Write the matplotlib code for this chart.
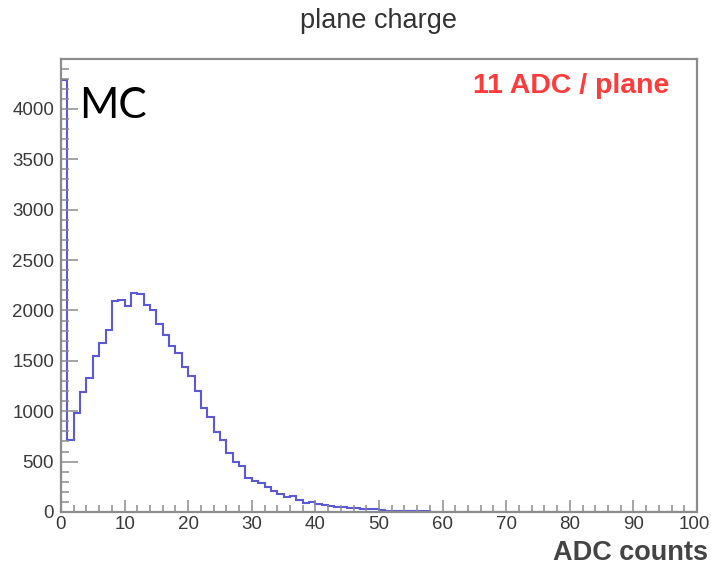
import numpy as np
import matplotlib
matplotlib.use("Agg")
import matplotlib.pyplot as plt
import matplotlib.transforms as mtransforms
from matplotlib.ticker import MultipleLocator

# Histogram of plane charge, 1 ADC-count bins from 0 to 100
bin_edges = np.arange(0, 101, 1)
counts_nonzero = [
    4290, 715, 980, 1195, 1330, 1550, 1680, 1810, 2090, 2105,
    2040, 2175, 2160, 2055, 2005, 1865, 1760, 1650, 1575, 1440,
    1350, 1200, 1030, 945, 790, 715, 590, 500, 460, 340,
    310, 285, 250, 210, 180, 150, 155, 120, 92, 100,
    80, 65, 55, 50, 45, 38, 35, 30, 28, 25,
    15, 14, 12, 12, 10, 10, 10, 10,
]
counts = np.zeros(100)
counts[:len(counts_nonzero)] = counts_nonzero

x_ticks = list(range(0, 101, 10))
title_text = "plane charge"
x_label = "ADC counts"
sample_label = "MC"
mean_label = "11 ADC / plane"

W, H = 711, 566
fig = plt.figure(figsize=(W / 100, H / 100), dpi=100)
ax = fig.add_axes([61 / W, 1 - 512 / H, (697 - 61) / W, (512 - 59) / H])

ax.stairs(counts, bin_edges, color="#5a5ad6", linewidth=1.5)

ax.set_xlim(0, 100)
ax.set_ylim(0, 4495)

frame_col = "#8c8c8c"
label_col = "#3a3a3a"
for sp in ax.spines.values():
    sp.set_color(frame_col)
    sp.set_linewidth(1.6)

ax.set_xticks(x_ticks)
ax.xaxis.set_minor_locator(MultipleLocator(2))
ax.yaxis.set_major_locator(MultipleLocator(500))
ax.yaxis.set_minor_locator(MultipleLocator(100))

ax.tick_params(axis="x", which="major", direction="in", length=9, width=1.1,
               color=frame_col, labelbottom=False)
ax.tick_params(axis="x", which="minor", direction="in", length=4.8, width=1.1,
               color=frame_col)
ax.tick_params(axis="y", which="major", direction="in", length=12, width=1.1,
               color=frame_col, labelsize=13.5, labelcolor=label_col, pad=5)
ax.tick_params(axis="y", which="minor", direction="in", length=6, width=1.1,
               color=frame_col)
for lab in ax.get_yticklabels():
    lab.set_family("Liberation Sans")

# x tick labels placed just under the frame; the last one is kept on-canvas
xtrans = ax.get_xaxis_transform()
for v in x_ticks:
    dx = -2.5 / 100 if v == x_ticks[-1] else 0
    t = xtrans + mtransforms.ScaledTranslation(dx, -4 / 100, fig.dpi_scale_trans)
    ax.text(v, 0, str(v), transform=t, ha="center", va="top",
            fontsize=13.5, color=label_col, family="Liberation Sans", clip_on=False)

fig.text(379 / W, 1 - 21 / H, title_text, ha="center", va="center",
         fontsize=19.5, color="#333333", family="Liberation Sans")
fig.text(708 / W, 1 - 553 / H, x_label, ha="right", va="center",
         fontsize=19.5, fontweight="bold", color="#444444", family="Liberation Sans")
fig.text(79 / W, 1 - 106 / H, sample_label, ha="left", va="center",
         fontsize=30.5, color="black", family="Lato")
fig.text(669 / W, 1 - 86 / H, mean_label, ha="right", va="center",
         fontsize=20.5, fontweight="bold", color="#ff3b3b", family="Liberation Sans")

fig.savefig("out.png", dpi=100)
